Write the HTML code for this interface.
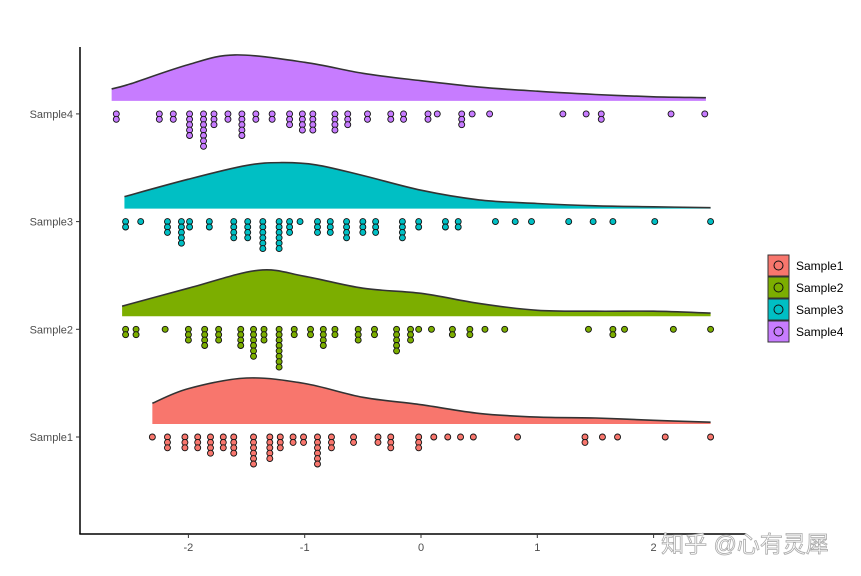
<!DOCTYPE html>
<html><head><meta charset="utf-8"><style>
html,body{margin:0;padding:0;background:#fff}
svg{display:block;font-family:"Liberation Sans",Arial,sans-serif}
</style></head><body>
<svg id="chart" width="861" height="576" viewBox="0 0 861 576" xmlns="http://www.w3.org/2000/svg">
<g id="plot"></g>
<g id="axes"></g>
<g id="legend"></g>
<text x="745" y="552" text-anchor="middle" font-size="23" fill="#fff" stroke="#aaa" stroke-width="0.8" font-family="'Liberation Sans','Noto Sans CJK SC',sans-serif">知乎 @心有灵犀</text>
</svg>
<script>
const categories=["Sample1","Sample2","Sample3","Sample4"];
const colors=["#F8766D","#7CAE00","#00BFC4","#C77CFF"];
const xTicks=[-2,-1,0,1,2];
const xTickLabels=["-2","-1","0","1","2"];
// dot bins: value and stacked count
const s1Vals=[-2.31,-2.18,-2.03,-1.92,-1.81,-1.70,-1.61,-1.44,-1.30,-1.21,-1.10,-1.01,-0.89,-0.77,-0.58,-0.37,-0.26,-0.02,0.11,0.23,0.34,0.45,0.83,1.41,1.56,1.69,2.10,2.49];
const s1Cnt=[1,3,3,3,4,3,4,6,5,3,2,2,6,3,2,2,3,3,1,1,1,1,1,2,1,1,1,1];
const s2Vals=[-2.54,-2.45,-2.20,-2.00,-1.86,-1.74,-1.55,-1.44,-1.35,-1.22,-1.09,-0.95,-0.84,-0.74,-0.54,-0.40,-0.21,-0.09,-0.02,0.09,0.27,0.42,0.55,0.72,1.44,1.65,1.75,2.17,2.49];
const s2Cnt=[2,2,1,3,4,3,4,6,3,8,2,2,4,2,3,2,5,3,1,1,2,2,1,1,1,2,1,1,1];
const s3Vals=[-2.54,-2.41,-2.18,-2.06,-1.99,-1.82,-1.61,-1.49,-1.36,-1.22,-1.13,-1.04,-0.89,-0.78,-0.64,-0.50,-0.39,-0.16,-0.02,0.21,0.32,0.64,0.81,0.95,1.27,1.48,1.65,2.01,2.49];
const s3Cnt=[2,1,3,5,2,2,4,4,6,6,3,1,3,3,4,3,3,4,2,2,2,1,1,1,1,1,1,1,1];
const s4Vals=[-2.62,-2.25,-2.13,-1.99,-1.87,-1.78,-1.66,-1.54,-1.42,-1.28,-1.13,-1.02,-0.93,-0.74,-0.63,-0.46,-0.26,-0.15,0.06,0.14,0.35,0.44,0.59,1.22,1.42,1.55,2.15,2.44];
const s4Cnt=[2,2,2,5,7,3,2,5,2,2,3,4,4,4,3,2,2,2,2,1,3,1,1,1,1,2,1,1];
// density curves (x grid, relative density)
const d1X=[-2.31,-2,-1.5,-1,-0.5,0,0.5,1,1.5,2,2.49];
const d1Y=[0.45,0.77,1.0,0.88,0.58,0.42,0.23,0.15,0.13,0.08,0.04];
const d2X=[-2.57,-2,-1.4,-1,-0.5,0,0.5,1,1.5,2,2.49];
const d2Y=[0.22,0.61,1.0,0.87,0.61,0.5,0.28,0.13,0.11,0.11,0.07];
const d3X=[-2.55,-2,-1.5,-1.2,-0.9,-0.5,0,0.5,1,1.5,2,2.49];
const d3Y=[0.26,0.64,0.94,1.0,0.95,0.72,0.4,0.19,0.11,0.06,0.04,0.02];
const d4X=[-2.66,-2.5,-2,-1.6,-1,-0.5,0,0.5,1,1.5,2,2.45];
const d4Y=[0.26,0.37,0.79,1.0,0.84,0.6,0.44,0.3,0.21,0.14,0.09,0.07];

const NS="http://www.w3.org/2000/svg";
const X=v=>421+v*116.3;
const rowY=i=>437-i*107.7;
const densH=46;
function mk(tag,attrs,parent){const e=document.createElementNS(NS,tag);for(const k in attrs)e.setAttribute(k,attrs[k]);parent.appendChild(e);return e;}
const plot=document.getElementById('plot'),axes=document.getElementById('axes'),legend=document.getElementById('legend');
const dotVals=[s1Vals,s2Vals,s3Vals,s4Vals],dotCnt=[s1Cnt,s2Cnt,s3Cnt,s4Cnt];
const dX=[d1X,d2X,d3X,d4X],dY=[d1Y,d2Y,d3Y,d4Y];
function smooth(pts){let d="M"+pts[0][0]+","+pts[0][1];for(let i=0;i<pts.length-1;i++){const p0=pts[Math.max(0,i-1)],p1=pts[i],p2=pts[i+1],p3=pts[Math.min(pts.length-1,i+2)];const c1=[p1[0]+(p2[0]-p0[0])/6,p1[1]+(p2[1]-p0[1])/6],c2=[p2[0]-(p3[0]-p1[0])/6,p2[1]-(p3[1]-p1[1])/6];d+=" C"+c1[0].toFixed(1)+","+c1[1].toFixed(1)+" "+c2[0].toFixed(1)+","+c2[1].toFixed(1)+" "+p2[0].toFixed(1)+","+p2[1].toFixed(1);}return d;}
for(let i=0;i<4;i++){
  const base=rowY(i)-13;
  const pts=dX[i].map((x,j)=>[X(x),base-dY[i][j]*densH]);
  const line=smooth(pts);
  const area=mk('path',{d:line+" L"+X(dX[i][dX[i].length-1])+","+base+" L"+X(dX[i][0])+","+base+" Z",fill:colors[i],stroke:'none'},plot);
  
  
  const ol=mk('path',{d:line,fill:'none',stroke:'#333',"stroke-width":1.6},plot);
  
  
  const g=mk('g',{},plot);
  
  
  dotVals[i].forEach((v,j)=>{for(let k=0;k<dotCnt[i][j];k++){const c=mk('circle',{cx:X(v),cy:rowY(i)+k*5.4,r:3,fill:colors[i],stroke:'#111',"stroke-width":0.9},g);
    
    }});
}
mk('line',{x1:80,y1:47,x2:80,y2:534,stroke:'#000',"stroke-width":1.5},axes);
mk('line',{x1:79.3,y1:534,x2:746,y2:534,stroke:'#000',"stroke-width":1.5},axes);
xTicks.forEach((t,i)=>{const tk=mk('line',{x1:X(t),y1:534,x2:X(t),y2:538,stroke:'#333'},axes);
  
  
  const tl=mk('text',{x:X(t),y:551,"text-anchor":"middle","font-size":11,fill:'#4d4d4d'},axes);tl.textContent=xTickLabels[i];
  
  });
categories.forEach((c,i)=>{const tk=mk('line',{x1:76,y1:rowY(i),x2:80,y2:rowY(i),stroke:'#333'},axes);
  
  
  const tl=mk('text',{x:73,y:rowY(i)+4,"text-anchor":"end","font-size":11,fill:'#4d4d4d'},axes);tl.textContent=c;
  
  });
categories.forEach((c,i)=>{const y=255+i*22;const g=mk('g',{},legend);
  
  
  mk('rect',{x:768,y:y,width:21,height:21,fill:colors[i],stroke:'#333',"stroke-width":1},g);
  mk('circle',{cx:778.5,cy:y+10.5,r:4.5,fill:'none',stroke:'#111',"stroke-width":1},g);
  const t=mk('text',{x:796,y:y+15,"font-size":12,fill:'#000'},g);t.textContent=c;});
</script>
</body></html>
